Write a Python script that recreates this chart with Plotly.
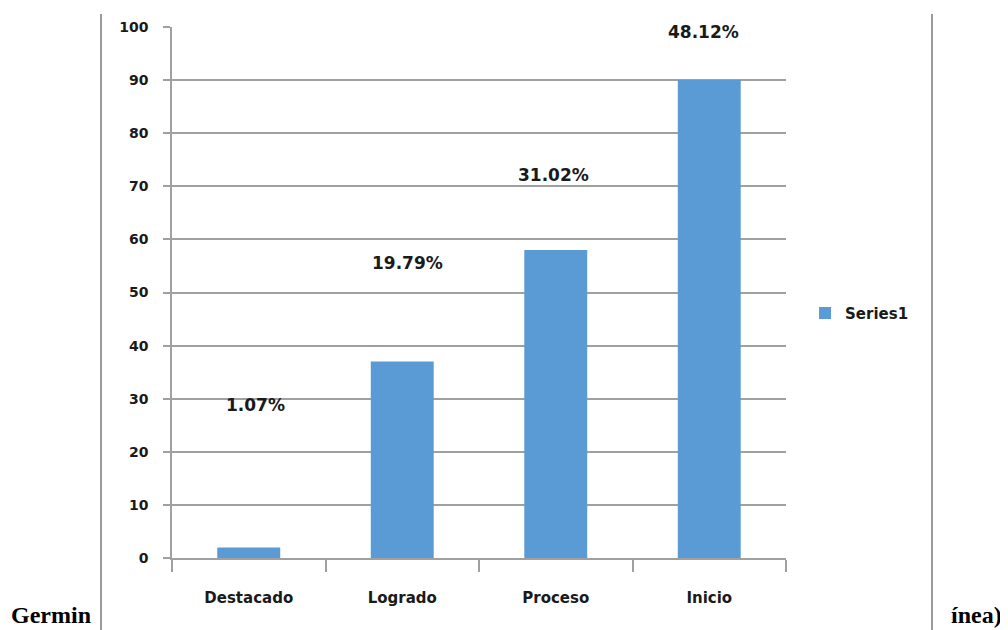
import plotly.graph_objects as go

categories = ["Destacado", "Logrado", "Proceso", "Inicio"]
values = [2, 37, 58, 90]
pct_labels = ["1.07%", "19.79%", "31.02%", "48.12%"]
series_name = "Series1"
y_ticks = [0, 10, 20, 30, 40, 50, 60, 70, 80, 90, 100]

# label placement (layout only)
label_y = [28.8, 55.6, 72.1, 99.0]
label_dx = [7, 5, -2, -6]

BAR = "#5B9BD5"
GRID = "#A0A0A0"
TXT = "#1a1a1a"
FONT = "DejaVu Sans"

fig = go.Figure()
fig.add_trace(go.Bar(x=categories, y=values, name=series_name,
                     marker=dict(color=BAR, line=dict(width=0)), width=0.41))

for c, lab, ly, dx in zip(categories, pct_labels, label_y, label_dx):
    fig.add_annotation(x=c, y=ly, xref="x", yref="y", text="<b>" + lab + "</b>",
                       showarrow=False, xshift=dx,
                       font=dict(family=FONT, size=17, color=TXT))

# document frame lines and surrounding text
for xp in [-0.1156, 1.2378]:
    fig.add_shape(type="line", xref="paper", yref="paper", x0=xp, x1=xp,
                  y0=1.0245, y1=-0.16, line=dict(color="#9a9a9a", width=2))

fig.add_annotation(xref="paper", yref="paper", x=-0.2655, y=-0.108, xanchor="left",
                   yanchor="middle", text="<b>Germin</b>", showarrow=False,
                   font=dict(family="Liberation Serif", size=24, color="#000"))
fig.add_annotation(xref="paper", yref="paper", x=1.3555, y=-0.108, xanchor="right",
                   yanchor="middle", text="<b>ínea)</b>", showarrow=False,
                   font=dict(family="Liberation Serif", size=24, color="#000"))

fig.update_layout(
    width=1000, height=622, autosize=False,
    margin=dict(l=164, r=222, t=19, b=72),
    paper_bgcolor="white", plot_bgcolor="white",
    font=dict(family=FONT, size=15, color=TXT),
    showlegend=True,
    legend=dict(x=1.031, y=0.461, xanchor="left", yanchor="middle",
                font=dict(family=FONT, size=15, color=TXT, weight="bold"),
                bgcolor="rgba(0,0,0,0)", itemwidth=30),
    xaxis=dict(showgrid=False, showline=True, linecolor=GRID, linewidth=1.5,
               ticks="outside", tickson="boundaries", ticklen=12, tickcolor=GRID,
               tickwidth=1.5, ticklabelstandoff=25,
               tickfont=dict(family=FONT, size=15, color=TXT, weight="bold")),
    yaxis=dict(range=[0, 100], tickvals=y_ticks, showgrid=True, gridcolor=GRID,
               gridwidth=1.5, showline=True, linecolor=GRID, linewidth=1.5,
               ticks="outside", ticklen=7, tickcolor=GRID, tickwidth=1.5,
               ticklabelstandoff=12, zeroline=False,
               tickfont=dict(family=FONT, size=14, color=TXT, weight="bold")),
)

fig.write_html("out.html")
